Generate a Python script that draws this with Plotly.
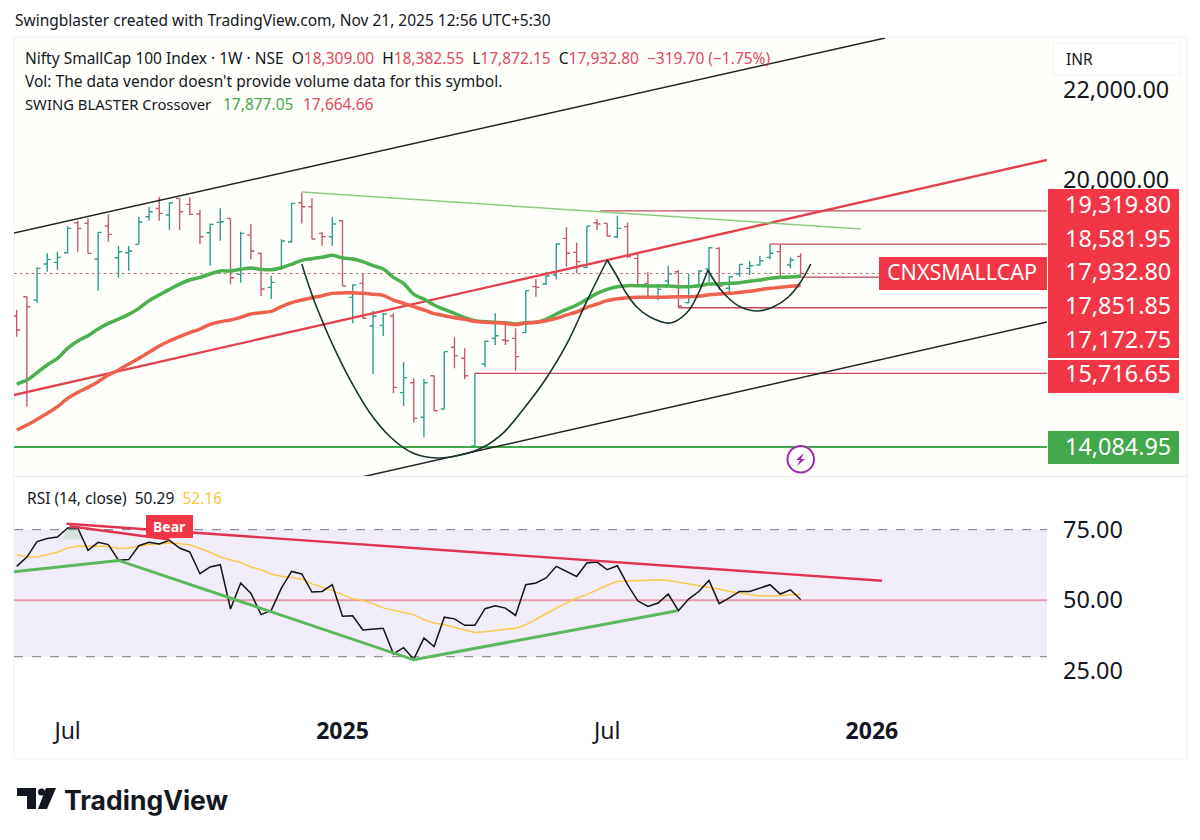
import pandas as pd
import plotly.graph_objects as go

# ---------- data ----------
first_week = "2024-05-27"
open_ = [16990,17415,17344,18142,18179,18393,19058,19043,18253,18984,18282,18393,18578,19191,19376,19228,19598,19465,19250,18836,
         19065,19154,17913,18785,18378,17624,18046,18637,19501,19413,18822,18748,19102,17403,17713,16768,16782,16989,15290,15511,
         14743,15666,14927,16295,16051,14110,15925,16494,16457,16494,16620,17640,17699,17898,18711,18401,18068,19058,19044,18748,
         18970,18268,17713,17418,17765,17972,17285,17677,18031,18489,17603,17920,18046,18120,18290,18416,18120,18309.00]
high = [17120,17415,18068,18378,18415,18984,19102,19154,18859,19243,18541,18541,19191,19413,19634,19509,19598,19620,19339,19043,
        19376,19154,18859,19029,18400,17883,18689,19501,19723,19598,18859,19191,19117,17691,17935,17108,17063,17048,15962,15607,
        15593,15666,16199,16516,16272,15716.65,16442,17048,16886,16716,17551,17810,17972,18600,18955,18615,18985,19132,19044,19210,
        19058,18379,17972,17699,18105,18009,17920,18009,18512,18512,17876,18142,18209,18319,18578,18581.95,18290,18382.55]
low = [16530,14980,17284,17972,18009,18378,18415,18378,17551,18637,17839,17994,18578,19102,19102,18896,18896,19228,18578,18105,
       18659,17691,17728,18245,17432,17366,18046,18615,19043,18689,18548,18541,17654,16827,16938,15703,16546,15275,14994,14624,
       14299,14890,14920,15829,15585,14084.95,15851,16346,16346,15777,16605,17418,17677,17802,18083,17935,18046,18896,18748,18711,
       18268,17654,17403,17344,17640,17172.75,17270,17640,17750,17566,17455,17861,17898,18105,18246,17851.85,18046,17872.15]
close = [16680,17195,18046,18245,18290,18932,18932,18378,18844,18799,18415,18430,19073,19302,19265,19501,19302,19243,18748,19021,
         19080,17839,18822,18430,17587,17735,18652,19487,19413,18696,18748,19029,17654,17677,16938,16989,17034,15408,15622,14720,
         15511,14890,16199,16110,15666,15716.65,16428,16553,16442,16088,17551,17625,17876,18586,18379,18194,18985,19029,18763,18933,
         18305,17654,17418,17580,17920,17211,17654,17987,18504,17654,17861,18135,18105,18216,18379,17861,18231,17932.80]
fast_ma = [15481,15570,15733,15903,16050,16272,16435,16553,16701,16826,16922,17026,17159,17329,17454,17580,17698,17787,17846,17920,
           17987,17987,18024,18053,18024,18016,18060,18134,18223,18260,18290,18334,18275,18253,18194,18105,18031,17847,17713,17470,
           17366,17233,17137,17048,16952,16886,16864,16849,16841,16812,16841,16849,16915,17034,17137,17233,17359,17492,17580,17640,
           17662,17662,17654,17654,17654,17640,17640,17654,17699,17699,17713,17728,17758,17787,17824,17847,17854,17877.05]
slow_ma = [14461,14572,14698,14831,14979,15163,15296,15407,15533,15681,15792,15925,16050,16183,16324,16435,16531,16619,16701,16804,
           16863,16900,16959,17033,17063,17092,17196,17284,17344,17395,17440,17491,17499,17507,17492,17470,17447,17344,17270,17196,
           17122,17041,16997,16952,16915,16871,16849,16841,16827,16797,16834,16849,16886,16938,17011,17078,17181,17255,17329,17373,
           17396,17403,17403,17403,17410,17418,17418,17425,17462,17477,17492,17514,17536,17573,17603,17625,17647,17664.66]
rsi = [62.0,65.3,70.8,71.9,72.4,75.6,75.6,67.7,70.5,69.7,64.2,64.4,69.3,70.5,69.9,71.2,68.5,67.1,59.4,61.8,
       62.6,46.9,56.1,52.5,44.9,46.4,54.3,60.2,59.3,52.9,53.1,55.5,44.3,44.5,39.5,39.9,40.1,31.0,33.2,29.1,
       36.6,33.6,44.0,43.4,41.1,41.1,47.0,48.0,47.2,44.6,55.5,56.1,57.9,62.0,60.2,58.4,63.2,63.5,60.8,62.2,
       55.5,49.8,47.8,49.0,52.2,46.3,50.4,53.1,57.0,48.8,50.8,53.1,53.1,54.3,55.5,52.2,53.7,50.29]
rsi_ma = [66.1,65.3,65.3,66.1,67.0,68.5,69.1,69.1,69.1,69.1,68.3,68.5,69.1,69.7,69.9,70.3,70.0,69.7,68.3,67.0,
          65.3,64.4,63.4,61.8,60.8,59.3,58.5,58.1,57.5,55.8,54.7,53.5,52.0,50.5,49.9,48.8,47.3,46.5,45.8,44.9,
          43.1,41.9,41.3,40.4,39.3,38.6,38.8,39.3,39.8,40.1,41.3,43.4,45.2,47.2,49.0,50.8,52.0,53.7,55.3,56.6,
          56.9,57.0,57.1,57.3,57.0,56.4,55.8,55.3,54.6,54.0,53.1,52.5,52.0,51.6,51.5,51.7,52.0,52.16]

# drawn lines: week offsets and prices
upper_channel_w, upper_channel_p = [-0.3, 85.3], [18829, 23153]
lower_channel_w, lower_channel_p = [33.9, 101.2], [13420, 16856]
red_trend_w, red_trend_p = [-0.3, 101.2], [15238, 20448]
green_trend_w, green_trend_p = [28.0, 82.9], [19738, 18918]
big_cup_w = [28.0,29.1,30.1,31.1,32.7,34.7,36.7,38.9,41.3,43.5,45.8,47.8,49.7,52.1,54.1,56.0,58.0]
big_cup_p = [18142,17400,16834,16320,15593,14839,14307,13952,13841,13900,14080,14400,14905,15637,16400,17320,18231]
cup_a_w = [58.0,59.0,59.8,60.9,62.2,64.2,65.8,66.8,67.9]
cup_a_p = [18231,17854,17521,17189,16967,16834,17056,17417,18009]
cup_b_w = [67.9,68.8,69.8,71.1,72.8,74.3,75.8,77.0,78.0]
cup_b_p = [18009,17677,17411,17189,17100,17189,17411,17743,18142]
level_prices = [19319.80, 18581.95, 17851.85, 17172.75, 15716.65]
level_weeks = [57.3, 74.0, 75.0, 65.0, 45.0]
support_price = 14084.95
last_close = 17932.80

rsi_red_a_w, rsi_red_a_v = [4.9, 85.0], [77.1, 56.9]
rsi_red_b_w, rsi_red_b_v = [5.2, 15.0], [76.2, 71.5]
rsi_green_w = [-0.3, 10.0, 39.0, 64.9]
rsi_green_v = [60.1, 64.1, 28.9, 46.3]
rsi_glow_w = [4.5, 5.0, 6.0, 6.6]
rsi_glow_v = [71.5, 75.6, 75.6, 71.5]

price_ticks = [22000, 20000]
rsi_ticks = [75, 50, 25]
time_tick_weeks = [5, 32, 58, 84]
time_tick_text = ["Jul", "<b>2025</b>", "Jul", "<b>2026</b>"]
box_labels = ["19,319.80", "18,581.95", "17,932.80", "17,851.85", "17,172.75", "15,716.65"]

# ---------- helpers ----------
FONT = "Noto Sans"
start = pd.Timestamp(first_week)
def when(w):
    return start + pd.to_timedelta(w * 7, "D")
def whens(ws):
    return [when(w) for w in ws]
def X(px):
    return px / 1200
def Y(py):
    return 1 - py / 840

RED, GREEN = "#f23645", "#43a84b"
weeks = whens(range(len(close)))
fig = go.Figure()

# ---------- price pane ----------
fig.add_trace(go.Ohlc(x=weeks, open=open_, high=high, low=low, close=close, tickwidth=0.35,
                      increasing=dict(line=dict(color="#2f9c92", width=1.4)),
                      decreasing=dict(line=dict(color="#c25a70", width=1.4)),
                      xaxis="x", yaxis="y", showlegend=False))

def line(ws, vs, color, width, axis="y", dash=None, shape="linear", smoothing=1.0):
    ln = dict(color=color, width=width, dash=dash, shape=shape)
    if shape == "spline":
        ln["smoothing"] = smoothing
    fig.add_trace(go.Scatter(x=whens(ws), y=vs, mode="lines", xaxis="x", yaxis=axis, showlegend=False, line=ln))

line([-0.3, 101.2], [last_close, last_close], "#a87a7a", 1, dash="dot")
for p, w in zip(level_prices, level_weeks):
    line([w, 101.2], [p, p], "#c2485a", 1.3)
line([-0.3, 101.2], [support_price, support_price], "#43a84b", 2.2)
line(upper_channel_w, upper_channel_p, "#222222", 1.5)
line(lower_channel_w, lower_channel_p, "#222222", 1.5)
line(red_trend_w, red_trend_p, "#e0434f", 2.4)
line(green_trend_w, green_trend_p, "#8ccb80", 1.5)
line(list(range(len(fast_ma))), fast_ma, "#4caf50", 3.5, shape="spline")
line(list(range(len(slow_ma))), slow_ma, "#f0604f", 3.5, shape="spline")
line(big_cup_w, big_cup_p, "#16352e", 1.6, shape="spline")
line(cup_a_w, cup_a_p, "#16352e", 1.6, shape="spline")
line(cup_b_w, cup_b_p, "#16352e", 1.6, shape="spline")

# ---------- RSI pane ----------
fig.add_trace(go.Scatter(x=whens(rsi_glow_w), y=rsi_glow_v, mode="none", fill="toself", xaxis="x", yaxis="y2",
                         fillcolor="rgba(76,175,80,0.15)", showlegend=False))
line([-0.3, 101.2], [50, 50], "#e79cab", 1.8, axis="y2")
line(list(range(len(rsi_ma))), rsi_ma, "#fbc94a", 1.5, axis="y2")
line(list(range(len(rsi))), rsi, "#141414", 1.5, axis="y2")
line(rsi_red_a_w, rsi_red_a_v, "#e0334f", 2.4, axis="y2")
line(rsi_red_b_w, rsi_red_b_v, "#e0334f", 2.4, axis="y2")
line(rsi_green_w, rsi_green_v, "#5cb85c", 3, axis="y2")

# ---------- page furniture ----------
def rect(x0, y0, x1, y1, fill, edge="rgba(0,0,0,0)", layer="above", w=1):
    return dict(type="rect", xref="paper", yref="paper", x0=X(x0), x1=X(x1), y0=Y(y1), y1=Y(y0),
                fillcolor=fill, line=dict(color=edge, width=w), layer=layer)

def poly(points, fill):
    d = "M " + " L ".join(f"{X(a):.5f},{Y(b):.5f}" for a, b in points) + " Z"
    return dict(type="path", xref="paper", yref="paper", path=d, fillcolor=fill,
                line=dict(color=fill, width=0), layer="above")

shapes = [
    rect(14, 37, 1187, 476, "#fffffb", layer="below"),
    rect(14, 37, 1187, 759, "rgba(0,0,0,0)", "#eef0f2", layer="below"),
    rect(14, 476, 1187, 476.5, "#e8e8e8", "#e8e8e8", layer="below", w=0.5),
    dict(type="rect", xref="x domain", yref="y2", x0=0, x1=1, y0=30, y1=75, fillcolor="#f0ecf8",
         line=dict(width=0), layer="below"),
    dict(type="line", xref="x domain", yref="y2", x0=0, x1=1, y0=75, y1=75,
         line=dict(color="#787b86", width=1, dash="dash"), layer="below"),
    dict(type="line", xref="x domain", yref="y2", x0=0, x1=1, y0=30, y1=30,
         line=dict(color="#787b86", width=1, dash="dash"), layer="below"),
    rect(1053, 43, 1180, 75, "#ffffff", "#f0f1f3"),
    rect(879, 257, 1047, 290, RED),
    rect(146, 515, 193, 538, RED),
    rect(1048, 431, 1179, 464, GREEN),
]
for y0 in [189, 222.5, 256, 290, 324]:
    shapes.append(rect(1048, y0, 1179, y0 + 34, RED))
shapes.append(rect(1048, 360, 1179, 393, RED))

# purple lightning badge
shapes.append(dict(type="circle", xref="paper", yref="paper", x0=X(787.5), x1=X(814), y0=Y(472.5), y1=Y(446),
                   fillcolor="#ffffff", line=dict(color="#9c27b0", width=2), layer="above"))
shapes.append(poly([(804, 453), (796, 460), (800, 460), (797, 466), (805, 459), (801, 459)], "#9c27b0"))

# TradingView mark
shapes.append(poly([(17, 788), (36, 788), (36, 809), (27, 809), (27, 796), (17, 796)], "#131722"))
shapes.append(dict(type="circle", xref="paper", yref="paper", x0=X(38), x1=X(45), y0=Y(795.5), y1=Y(788.5),
                   fillcolor="#131722", line=dict(width=0), layer="above"))
shapes.append(poly([(46, 788), (56, 788), (47, 809), (38, 809)], "#131722"))

def text(px, py, s, size=15.5, color="#131722", anchor="left", family=FONT):
    return dict(xref="paper", yref="paper", x=X(px), y=Y(py), text=s, showarrow=False, xanchor=anchor,
                yanchor="middle", font=dict(family=family, size=size, color=color), align="left")

def c(s, color):
    return f'<span style="color:{color}">{s}</span>'

LR = "#e04a5a"
annotations = [
    text(13, 20, "Swingblaster created with TradingView.com, Nov 21, 2025 12:56 UTC+5:30", size=15.5),
    text(23, 58, "Nifty SmallCap 100 Index · 1W · NSE  O" + c("18,309.00", LR) + "  H" + c("18,382.55", LR)
         + "  L" + c("17,872.15", LR) + "  C" + c("17,932.80", LR) + "  " + c("−319.70 (−1.75%)", LR)),
    text(23, 81, "Vol: The data vendor doesn't provide volume data for this symbol."),
    text(23, 104, "SWING BLASTER Crossover", size=14.8),
    text(221, 104, "17,877.05", color="#43a84b"),
    text(301, 104, "17,664.66", color=LR),
    text(25, 498, "RSI (14, close)  50.29  " + c("52.16", "#f9c83c")),
    text(1064, 59, "INR", size=15.5),
    text(885, 271.5, "CNXSMALLCAP", size=21.5, color="#ffffff"),
    text(169.5, 526, "<b>Bear</b>", size=14, color="#ffffff", anchor="center"),
    text(1063, 445.5, "14,084.95", size=23.4, color="#ffffff"),
    text(62, 800, "<b>TradingView</b>", size=26.5, family="Inter"),
]
for py, label in zip([203.5, 237.5, 271.5, 304.5, 338.5, 373], box_labels):
    annotations.append(text(1063, py, label, size=23.4, color="#ffffff"))

fig.update_layout(
    width=1200, height=840, margin=dict(l=0, r=0, t=0, b=0, pad=0),
    paper_bgcolor="#ffffff", plot_bgcolor="rgba(0,0,0,0)", showlegend=False, hovermode=False,
    font=dict(family=FONT, color="#131722"),
    shapes=shapes, annotations=annotations,
    xaxis=dict(domain=[X(14), X(1047)], range=[when(-0.265), when(101.2)], type="date", anchor="y2",
               rangeslider=dict(visible=False), showgrid=False, zeroline=False, showline=False,
               tickmode="array", tickvals=whens(time_tick_weeks), ticktext=time_tick_text, ticks="",
               tickfont=dict(family=FONT, size=23, color="#131722"), ticklabelstandoff=1),
    yaxis=dict(domain=[Y(476), Y(38)], range=[13442, 23153], side="right", anchor="x", showgrid=False,
               zeroline=False, showline=False, tickmode="array", tickvals=price_ticks,
               ticktext=[f"{v:,.2f}" for v in price_ticks], ticks="", ticklabelstandoff=15,
               tickfont=dict(family=FONT, size=23.4, color="#131722")),
    yaxis2=dict(domain=[Y(714), Y(478)], range=[9.7, 93.3], side="right", anchor="x", showgrid=False,
                zeroline=False, showline=False, tickmode="array", tickvals=rsi_ticks,
                ticktext=[f"{v:.2f}" for v in rsi_ticks], ticks="", ticklabelstandoff=15,
                tickfont=dict(family=FONT, size=23.4, color="#131722")),
)

fig.write_html("out.html", config=dict(displayModeBar=False),
               post_script="document.body.style.margin='0';")
